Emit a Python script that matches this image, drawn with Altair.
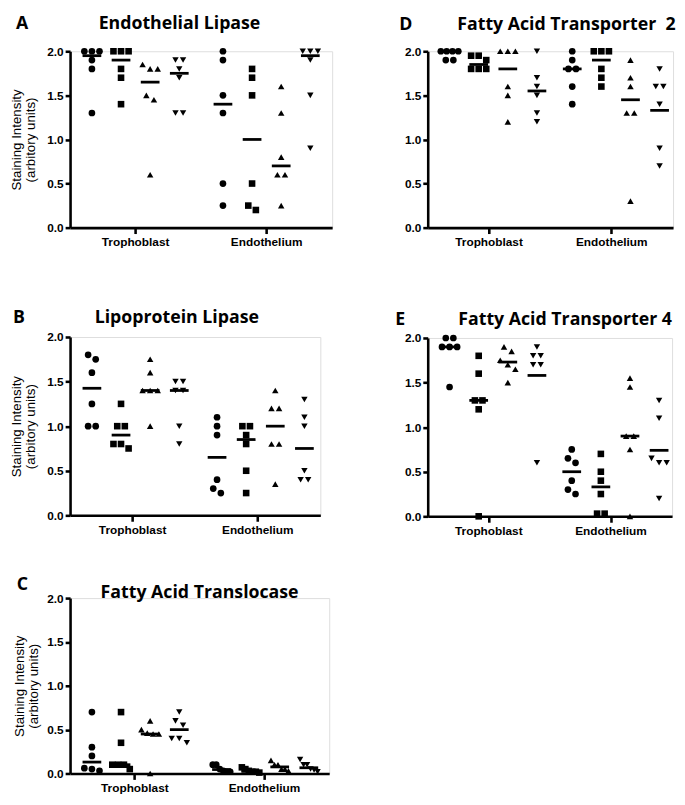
import altair as alt
import pandas as pd

GROUPS = ["Trophoblast", "Endothelium"]
SERIES = ["S1", "S2", "S3", "S4"]
SHAPES = ["circle", "square", "triangle-up", "triangle-down"]
SLOTS = [-1.5, -0.5, 0.5, 1.5]

# ---- Panel A: Endothelial Lipase
A_TROPH = [[2.0, 2.0, 2.0, 1.9, 1.8, 1.3], [2.0, 2.0, 2.0, 1.8, 1.7, 1.4],
           [1.85, 1.8, 1.8, 1.5, 1.45, 0.6], [1.9, 1.9, 1.8, 1.7, 1.3, 1.3]]
A_ENDO = [[2.0, 1.9, 1.5, 1.3, 0.5, 0.25], [1.8, 1.7, 1.5, 0.5, 0.25, 0.2],
          [1.6, 1.3, 0.8, 0.6, 0.6, 0.25], [2.0, 2.0, 2.0, 1.9, 1.5, 0.9]]
A_TROPH_MID = [1.95, 1.9, 1.65, 1.75]
A_ENDO_MID = [1.4, 1.0, 0.7, 1.95]

# ---- Panel B: Lipoprotein Lipase
B_TROPH = [[1.8, 1.75, 1.6, 1.25, 1.0, 1.0], [1.25, 1.0, 1.0, 0.8, 0.8, 0.75],
           [1.75, 1.6, 1.4, 1.4, 1.4, 1.0], [1.5, 1.5, 1.4, 1.4, 1.0, 0.8]]
B_ENDO = [[1.1, 1.0, 0.9, 0.4, 0.3, 0.25], [1.0, 1.0, 0.9, 0.8, 0.5, 0.25],
          [1.4, 1.2, 1.2, 0.8, 0.8, 0.35], [1.3, 1.1, 1.0, 0.5, 0.4, 0.4]]
B_TROPH_MID = [1.425, 0.9, 1.4, 1.4]
B_ENDO_MID = [0.65, 0.85, 1.0, 0.75]

# ---- Panel C: Fatty Acid Translocase
C_TROPH = [[0.7, 0.3, 0.2, 0.06, 0.05, 0.03], [0.7, 0.35, 0.1, 0.1, 0.1, 0.05],
           [0.6, 0.5, 0.46, 0.45, 0.45, 0.0], [0.7, 0.6, 0.55, 0.4, 0.4, 0.35]]
C_ENDO = [[0.1, 0.1, 0.05, 0.03, 0.02, 0.02], [0.07, 0.05, 0.03, 0.02, 0.02, 0.01],
          [0.15, 0.1, 0.1, 0.05, 0.05, 0.03], [0.16, 0.1, 0.1, 0.05, 0.04, 0.02]]
C_TROPH_MID = [0.13, 0.1, 0.45, 0.5]
C_ENDO_MID = [0.045, 0.025, 0.075, 0.065]

# ---- Panel D: Fatty Acid Transporter 2
D_TROPH = [[2.0, 2.0, 2.0, 2.0, 1.9, 1.9], [1.95, 1.95, 1.9, 1.8, 1.8, 1.8],
           [2.0, 2.0, 2.0, 1.6, 1.5, 1.2], [2.0, 1.7, 1.6, 1.5, 1.3, 1.2]]
D_ENDO = [[2.0, 1.9, 1.8, 1.8, 1.6, 1.4], [2.0, 2.0, 2.0, 1.8, 1.7, 1.6],
          [1.9, 1.7, 1.6, 1.3, 1.3, 0.3], [1.8, 1.6, 1.6, 1.4, 0.9, 0.7]]
D_TROPH_MID = [2.0, 1.85, 1.8, 1.55]
D_ENDO_MID = [1.8, 1.9, 1.45, 1.33]

# ---- Panel E: Fatty Acid Transporter 4
E_TROPH = [[2.0, 2.0, 1.9, 1.9, 1.9, 1.45], [1.8, 1.6, 1.3, 1.3, 1.2, 0.0],
           [1.9, 1.85, 1.75, 1.7, 1.65, 1.5], [1.9, 1.8, 1.8, 1.7, 1.7, 0.6]]
E_ENDO = [[0.75, 0.65, 0.6, 0.4, 0.3, 0.25], [0.7, 0.5, 0.4, 0.25, 0.03, 0.03],
          [1.55, 1.45, 0.9, 0.9, 0.75, 0.0], [1.3, 1.1, 0.65, 0.6, 0.6, 0.2]]
E_TROPH_MID = [1.9, 1.3, 1.73, 1.58]
E_ENDO_MID = [0.5, 0.33, 0.9, 0.74]

FONT = "Liberation Sans"
HFONT = "Open Sans"


def swarm(vals, thresh=0.07):
    """Spread points of nearly equal value side by side (column scatter)."""
    order = sorted(range(len(vals)), key=lambda i: -vals[i])
    clusters, cur = [], [order[0]]
    for i in order[1:]:
        if vals[cur[-1]] - vals[i] <= thresh:
            cur.append(i)
        else:
            clusters.append(cur)
            cur = [i]
    clusters.append(cur)
    offs = [0.0] * len(vals)
    for c in clusters:
        n = len(c)
        step = 0.26 if n <= 3 else 0.6 / (n - 1)
        for k, i in enumerate(c):
            offs[i] = (k - (n - 1) / 2) * step
    return offs


def build(troph, endo, troph_mid, endo_mid):
    rows, mids = [], []
    for g, data, mid in ((GROUPS[0], troph, troph_mid), (GROUPS[1], endo, endo_mid)):
        for s, slot, vals, m in zip(SERIES, SLOTS, data, mid):
            for v, o in zip(vals, swarm(vals)):
                rows.append({"group": g, "series": s, "value": v, "off": slot + o})
            mids.append({"group": g, "series": s, "value": m, "off": slot})
    return pd.DataFrame(rows), pd.DataFrame(mids)


def panel(letter, title, troph, endo, troph_mid, endo_mid, w, h,
          lpos, tpos, ytitle=True, tpad=9):
    pts, mids = build(troph, endo, troph_mid, endo_mid)
    xenc = alt.X("group:N",
                 scale=alt.Scale(domain=GROUPS, paddingInner=0, paddingOuter=0),
                 axis=alt.Axis(labelAngle=0, labelFont=FONT, labelFontSize=12,
                               labelFontWeight="bold", labelColor="black",
                               domainColor="black", domainWidth=2.6,
                               tickColor="black", tickWidth=2.6, tickSize=6,
                               labelPadding=3, grid=False),
                 title=None)
    xoff = alt.XOffset("off:Q", scale=alt.Scale(domain=[-2.25, 2.25], nice=False, zero=False))
    yaxis = alt.Axis(values=[0, 0.5, 1.0, 1.5, 2.0], format=".1f", labelFont=FONT,
                     labelFontSize=12, labelFontWeight="bold", labelColor="black",
                     domainColor="black", domainWidth=2.6, tickColor="black",
                     tickWidth=2.6, tickSize=5, labelPadding=2, grid=False,
                     titleFont=FONT, titleFontSize=13.5, titleFontWeight="normal",
                     titleColor="black", titlePadding=tpad, titleLineHeight=15)
    yscale = alt.Scale(domain=[0, 2], nice=False, zero=True)
    if ytitle:
        yenc = alt.Y("value:Q", scale=yscale, axis=yaxis,
                     title=["Staining Intensity", "(arbitory units)"])
    else:
        yenc = alt.Y("value:Q", scale=yscale, axis=yaxis, title=None)

    points = alt.Chart(pts).mark_point(filled=True, color="black", opacity=1,
                                       strokeWidth=0).encode(
        x=xenc, xOffset=xoff, y=yenc,
        shape=alt.Shape("series:N", scale=alt.Scale(domain=SERIES, range=SHAPES), legend=None),
        size=alt.Size("series:N", scale=alt.Scale(domain=SERIES, range=[46, 42, 58, 58]), legend=None),
    )
    lines = alt.Chart(mids).mark_tick(color="black", thickness=2.8, size=19, opacity=1).encode(
        x=xenc, xOffset=xoff, y=yenc)

    hdr = pd.DataFrame({"letter": [letter], "title": [title]})
    let = alt.Chart(hdr).mark_text(align="left", baseline="top", font=HFONT,
                                   fontSize=18, fontWeight="bold", color="black").encode(
        x=alt.value(lpos[0]), y=alt.value(lpos[1]), text="letter:N")
    tit = alt.Chart(hdr).mark_text(align="left", baseline="top", font=HFONT,
                                   fontSize=18, fontWeight="bold", color="black").encode(
        x=alt.value(tpos[0]), y=alt.value(tpos[1]), text="title:N")
    return alt.layer(points, lines, let, tit).properties(width=w, height=h)


pA = panel("A", "Endothelial Lipase", A_TROPH, A_ENDO, A_TROPH_MID, A_ENDO_MID,
           266, 179, (-55, -37), (29, -37))
pB = panel("B", "Lipoprotein Lipase", B_TROPH, B_ENDO, B_TROPH_MID, B_ENDO_MID,
           254, 181, (-58, -28), (25, -28))
pC = panel("C", "Fatty Acid Translocase", C_TROPH, C_ENDO, C_TROPH_MID, C_ENDO_MID,
           263, 178, (-54, -22), (31, -14), tpad=6)
pD = panel("D", "Fatty Acid Transporter \u00a02", D_TROPH, D_ENDO, D_TROPH_MID, D_ENDO_MID,
           249, 179, (-29, -36), (30, -36), ytitle=False)
pE = panel("E", "Fatty Acid Transporter 4", E_TROPH, E_ENDO, E_TROPH_MID, E_ENDO_MID,
           248, 181, (-33, -27), (31, -27), ytitle=False)

left = alt.vconcat(alt.vconcat(pA, pB, spacing=61), pC, spacing=40)
right = alt.vconcat(pD, pE, spacing=63)
chart = alt.hconcat(left, right, spacing=62).properties(
    padding={"left": 0, "top": 0, "right": 0, "bottom": 0}
).configure_view(stroke=None).configure(background="white")

chart.save("out.html", embed_options={"renderer": "svg", "actions": False})
